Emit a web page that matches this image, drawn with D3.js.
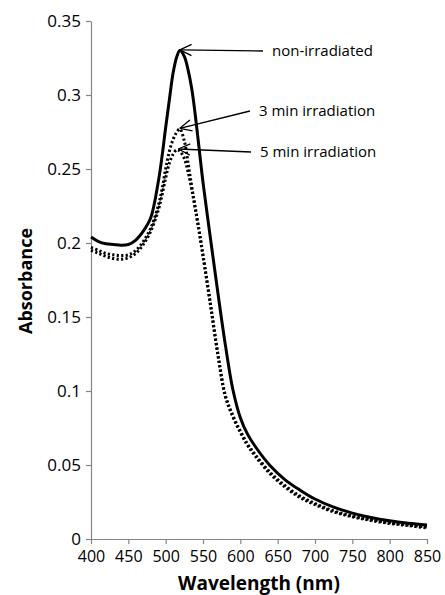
<!DOCTYPE html>
<html>
<head>
<meta charset="utf-8">
<script src="https://cdn.jsdelivr.net/npm/d3@7"></script>
<style>
  body { margin: 0; background: #fff; }
  svg { display: block; }
  text { font-family: "Open Sans", sans-serif; fill: #000; }
</style>
</head>
<body>
<svg></svg>
<script>
(function (d3) {
    // ==================================================
    // data

    const wavelengths = [400, 410, 420, 430, 440, 450, 460, 470, 480, 490, 495, 500, 505, 510, 515, 519,
                         525, 530, 535, 540, 545, 550, 560, 570, 580, 590, 600, 610, 620, 640, 660, 680,
                         700, 725, 750, 775, 800, 825, 850];

    const nonIrradiated = [0.204, 0.201, 0.1995, 0.199, 0.1985, 0.199, 0.202, 0.208, 0.217, 0.241, 0.258, 0.278, 0.297, 0.315, 0.326, 0.330,
                           0.326, 0.317, 0.304, 0.285, 0.263, 0.241, 0.203, 0.166, 0.131, 0.101, 0.082, 0.0705, 0.0625, 0.0495, 0.040, 0.033,
                           0.027, 0.0215, 0.0175, 0.0145, 0.0123, 0.0107, 0.0095];

    const irr3min = [0.197, 0.195, 0.193, 0.192, 0.1915, 0.192, 0.195, 0.201, 0.210, 0.225, 0.236, 0.250, 0.262, 0.270, 0.275, 0.277,
                     0.269, 0.254, 0.238, 0.223, 0.208, 0.192, 0.159, 0.125, 0.097, 0.0835, 0.073, 0.064, 0.057, 0.045, 0.036, 0.029,
                     0.024, 0.019, 0.0155, 0.013, 0.011, 0.0095, 0.008];

    const irr5min = [0.195, 0.193, 0.191, 0.1895, 0.189, 0.190, 0.193, 0.199, 0.208, 0.222, 0.232, 0.244, 0.254, 0.260, 0.263, 0.262,
                     0.257, 0.248, 0.236, 0.222, 0.207, 0.191, 0.158, 0.124, 0.096, 0.0825, 0.072, 0.063, 0.056, 0.044, 0.035, 0.028,
                     0.0232, 0.0183, 0.015, 0.0125, 0.0105, 0.009, 0.0075];

    const xTicks = [400, 450, 500, 550, 600, 650, 700, 750, 800, 850];
    const yTicks = [0, 0.05, 0.1, 0.15, 0.2, 0.25, 0.3, 0.35];
    const yTickLabels = ["0", "0.05", "0.1", "0.15", "0.2", "0.25", "0.3", "0.35"];

    // label, wavelength and absorbance of the arrow tip
    const noteLabels = ["non-irradiated", "3 min irradiation", "5 min irradiation"];
    const noteTipX = [519, 519, 517];
    const noteTipY = [0.3305, 0.2775, 0.2635];

    // ==================================================

    const width = 445;
    const height = 595;
    const svg = d3.select('svg').attr('width', width).attr('height', height);

    const x = d3.scaleLinear().domain([400, 850]).range([91, 427]);
    const y = d3.scaleLinear().domain([0, 0.35]).range([539, 21]);

    const axisColor = "#868686";

    // axes
    const gx = svg.append("g")
          .attr("transform", "translate(0," + y(0) + ")")
          .call(d3.axisBottom(x).tickValues(xTicks).tickSize(5).tickSizeOuter(0).tickPadding(7));
    const gy = svg.append("g")
          .attr("transform", "translate(" + x(400) + ",0)")
          .call(d3.axisLeft(y).tickValues(yTicks).tickSize(5).tickSizeOuter(0).tickPadding(5)
                .tickFormat((d, i) => yTickLabels[i]));

    [gx, gy].forEach(g => {
        g.select(".domain").attr("stroke", axisColor).attr("stroke-width", 1.2);
        g.selectAll(".tick line").attr("stroke", axisColor).attr("stroke-width", 1.2);
        g.selectAll(".tick text").attr("font-family", "Open Sans").attr("font-size", 17).attr("fill", "#111");
    });
    gx.selectAll(".tick text").attr("font-size", 16);

    svg.append("text")
        .attr("x", 259).attr("y", 590)
        .attr("text-anchor", "middle")
        .attr("font-size", 19).attr("font-weight", "bold")
        .text("Wavelength (nm)");

    svg.append("text")
        .attr("transform", "translate(32,281) rotate(-90)")
        .attr("text-anchor", "middle")
        .attr("font-size", 18).attr("font-weight", "bold")
        .text("Absorbance");

    // curves
    const line = d3.line()
          .x((d, i) => x(wavelengths[i]))
          .y(d => y(d))
          .curve(d3.curveCatmullRom.alpha(0.5));

    svg.append("path").datum(irr5min)
        .attr("d", line).attr("fill", "none")
        .attr("stroke", "#000").attr("stroke-width", 3)
        .attr("stroke-dasharray", "2.2,2.3");
    svg.append("path").datum(irr3min)
        .attr("d", line).attr("fill", "none")
        .attr("stroke", "#000").attr("stroke-width", 3)
        .attr("stroke-dasharray", "2.2,2.3");
    svg.append("path").datum(nonIrradiated)
        .attr("d", line).attr("fill", "none")
        .attr("stroke", "#000").attr("stroke-width", 3);

    // annotations with open arrowheads
    const labelStart = [[272, 51], [259, 111], [260, 152]];
    const tailGap = 9;
    noteLabels.forEach((label, i) => {
        const tx = x(noteTipX[i]), ty = y(noteTipY[i]);
        const lx = labelStart[i][0], ly = labelStart[i][1];
        const ex = lx - tailGap, ey = ly;
        svg.append("line")
            .attr("x1", ex).attr("y1", ey).attr("x2", tx).attr("y2", ty)
            .attr("stroke", "#000").attr("stroke-width", 1.3);
        const ang = Math.atan2(ey - ty, ex - tx);
        const len = 13, spread = 0.45;
        [-spread, spread].forEach(s => {
            svg.append("line")
                .attr("x1", tx).attr("y1", ty)
                .attr("x2", tx + len * Math.cos(ang + s))
                .attr("y2", ty + len * Math.sin(ang + s))
                .attr("stroke", "#000").attr("stroke-width", 1.3);
        });
        svg.append("text")
            .attr("x", lx).attr("y", ly)
            .attr("dy", "0.35em")
            .attr("font-size", 15)
            .text(label);
    });
})(d3);
</script>
</body>
</html>
